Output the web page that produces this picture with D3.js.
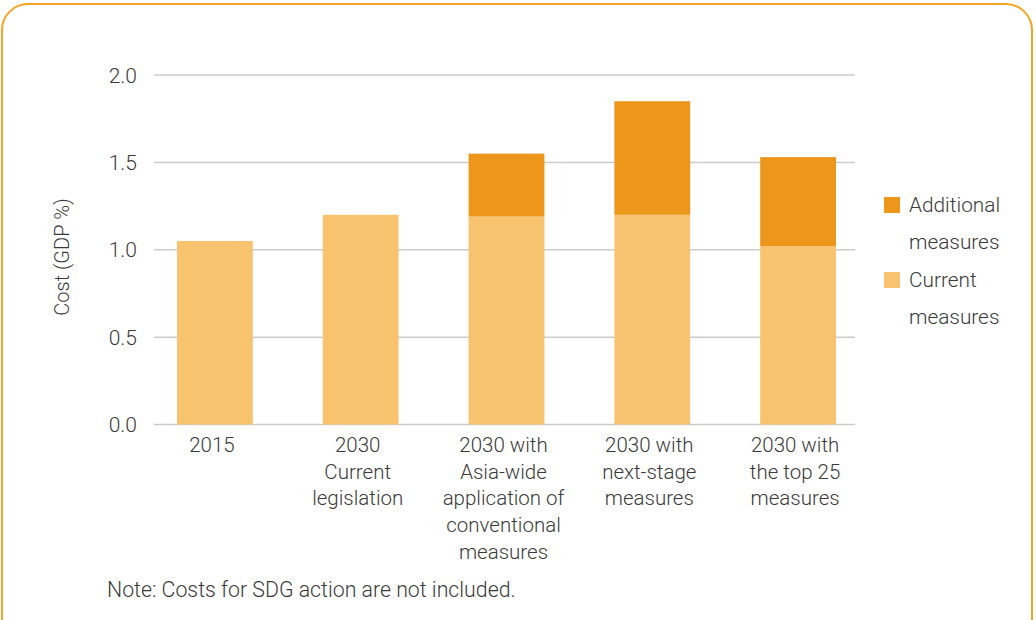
<!DOCTYPE html>
<html><head><meta charset="utf-8">
<script src="https://cdn.jsdelivr.net/npm/d3@7"></script>
<style>
body{margin:0;background:#fff;}
text{font-family:Roboto,"Open Sans",sans-serif;font-weight:300;fill:#3a3a3a;}
</style></head>
<body><svg id="c" width="1036" height="620"></svg>
<script>
const categories = [["2015"],["2030","Current","legislation"],["2030 with","Asia-wide","application of","conventional","measures"],["2030 with","next-stage","measures"],["2030 with","the top 25","measures"]];
const currentMeasures = [1.05, 1.20, 1.19, 1.20, 1.02];
const additionalMeasures = [0, 0, 0.36, 0.65, 0.51];
const yTicks = [0, 0.5, 1.0, 1.5, 2.0];
const seriesNames = [["Additional","measures"],["Current","measures"]];
const colors = {current:"#F8C36F", additional:"#EC961B"};

const svg = d3.select("#c");
svg.append("rect").attr("x",2).attr("y",4).attr("width",1030).attr("height",660)
  .attr("rx",26).attr("fill","none").attr("stroke","#F5A524").attr("stroke-width",2);

const y = d3.scaleLinear().domain([0,2]).range([424.5,75]);
const x = d3.scaleBand().domain(d3.range(categories.length)).range([142,871]).paddingInner(0.48).paddingOuter(0.24);

// grid
svg.append("g").selectAll("line").data(yTicks).join("line")
  .attr("x1",154).attr("x2",855).attr("y1",d=>y(d)).attr("y2",d=>y(d))
  .attr("stroke","#cccccc").attr("stroke-width",1.5);
svg.append("g").selectAll("text").data(yTicks).join("text")
  .attr("x",137).attr("y",d=>y(d)+7.5).attr("text-anchor","end").attr("font-size",21)
  .text(d=>d3.format(".1f")(d));

svg.append("text").attr("transform","translate(69,257) rotate(-90)").attr("text-anchor","middle")
  .attr("font-size",20).text("Cost (GDP %)");

const data = categories.map((c,i)=>({i, cur:currentMeasures[i], add:additionalMeasures[i]}));
svg.append("g").selectAll("rect").data(data).join("rect")
  .attr("x",d=>x(d.i)).attr("width",x.bandwidth())
  .attr("y",d=>y(d.cur)).attr("height",d=>y(0)-y(d.cur)).attr("fill",colors.current);
svg.append("g").selectAll("rect").data(data.filter(d=>d.add>0)).join("rect")
  .attr("x",d=>x(d.i)).attr("width",x.bandwidth())
  .attr("y",d=>y(d.cur+d.add)).attr("height",d=>y(d.cur)-y(d.cur+d.add)).attr("fill",colors.additional);

// x labels
const xl = svg.append("g").selectAll("text").data(categories).join("text")
  .attr("text-anchor","middle").attr("font-size",20.5);
xl.each(function(lines,i){
  d3.select(this).selectAll("tspan").data(lines).join("tspan")
    .attr("x",x(i)+x.bandwidth()/2-3).attr("y",(d,j)=>452+j*26.7).text(d=>d);
});

// legend
const leg = [{c:colors.additional, t:seriesNames[0], y:197},{c:colors.current, t:seriesNames[1], y:272}];
const lg = svg.append("g").selectAll("g").data(leg).join("g");
lg.append("rect").attr("x",884).attr("y",d=>d.y).attr("width",16).attr("height",16).attr("fill",d=>d.c);
lg.append("text").attr("font-size",20.8).each(function(d){
  d3.select(this).selectAll("tspan").data(d.t).join("tspan")
    .attr("x",909).attr("y",(t,j)=>d.y+15+j*37).text(t=>t);
});

svg.append("text").attr("x",107).attr("y",597).attr("font-size",21.3).text("Note: Costs for SDG action are not included.");
</script></body></html>
